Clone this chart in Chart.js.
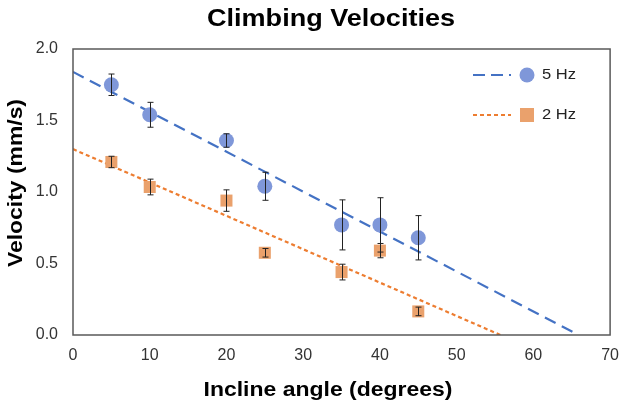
<!DOCTYPE html>
<html lang="en">
<head>
<meta charset="UTF-8">
<title>Climbing Velocities</title>
<script src="https://cdn.jsdelivr.net/npm/chart.js"></script>
<style>
  html, body { margin: 0; padding: 0; background: #fff; }
  #wrap { width: 622px; height: 404px; }
</style>
</head>
<body>
<div id="wrap"><canvas id="chart" width="622" height="404"></canvas></div>
<script>
// values
const angles = [5, 10, 20, 25, 35, 40, 45];
const vel5Hz = [1.75, 1.54, 1.36, 1.04, 0.77, 0.77, 0.68];
const err5Hz = [0.075, 0.087, 0.047, 0.098, 0.175, 0.19, 0.155];
const vel2Hz = [1.21, 1.035, 0.94, 0.575, 0.44, 0.59, 0.165];
const err2Hz = [0.04, 0.055, 0.075, 0.03, 0.055, 0.05, 0.03];

// trendline end points (x, y)
const fit5X = [0, 65.9];
const fit5Y = [1.84, 0];
const fit2X = [0, 55.7];
const fit2Y = [1.30, 0];

const xTicks = [0, 10, 20, 30, 40, 50, 60, 70];
const yTicks = [0, 0.5, 1.0, 1.5, 2.0];

const FONT = "'Liberation Sans', Arial, sans-serif";
const blueLine = '#4472c4', blueMark = '#7f97d9';
const orangeLine = '#ed7d31', orangeMark = '#eaa16c';

function pts(xs, ys) { return xs.map((x, i) => ({ x: x, y: ys[i] })); }

// the reference text is a bit wider than the font, so stretch it to width
function wideText(ctx, text, x, y, w) {
  const m = ctx.measureText(text).width;
  ctx.save();
  ctx.translate(x, y);
  ctx.scale(w / m, 1);
  ctx.fillText(text, 0, 0);
  ctx.restore();
}

// error bars, frame, titles and legend
const extras = {
  id: 'extras',
  afterDatasetsDraw(chart) {
    const ctx = chart.ctx, xs = chart.scales.x, ys = chart.scales.y;
    const a = chart.chartArea;
    ctx.save();
    ctx.strokeStyle = '#222';
    ctx.lineWidth = 1;
    [[vel5Hz, err5Hz], [vel2Hz, err2Hz]].forEach(([v, e]) => {
      angles.forEach((ang, i) => {
        const px = Math.round(xs.getPixelForValue(ang)) + 0.5;
        const top = ys.getPixelForValue(v[i] + e[i]);
        const bot = ys.getPixelForValue(v[i] - e[i]);
        ctx.beginPath();
        ctx.moveTo(px, top); ctx.lineTo(px, bot);
        ctx.moveTo(px - 3, top); ctx.lineTo(px + 3, top);
        ctx.moveTo(px - 3, bot); ctx.lineTo(px + 3, bot);
        ctx.stroke();
      });
    });
    // plot frame
    ctx.strokeStyle = '#595959';
    ctx.lineWidth = 1.5;
    ctx.strokeRect(a.left, a.top, a.right - a.left, a.bottom - a.top);

    // titles
    ctx.fillStyle = '#000';
    ctx.textAlign = 'center';
    ctx.textBaseline = 'alphabetic';
    ctx.font = 'bold 23px ' + FONT;
    wideText(ctx, 'Climbing Velocities', 331, 26, 248);
    ctx.font = 'bold 20px ' + FONT;
    wideText(ctx, 'Incline angle (degrees)', 328, 396, 249);
    ctx.save();
    ctx.translate(22, 183);
    ctx.rotate(-Math.PI / 2);
    wideText(ctx, 'Velocity (mm/s)', 0, 0, 168);
    ctx.restore();

    // legend
    ctx.lineWidth = 2;
    ctx.strokeStyle = blueLine;
    ctx.setLineDash([12, 6]);
    ctx.beginPath(); ctx.moveTo(473, 75); ctx.lineTo(511, 75); ctx.stroke();
    ctx.strokeStyle = orangeLine;
    ctx.setLineDash([4, 3]);
    ctx.beginPath(); ctx.moveTo(473, 115); ctx.lineTo(511, 115); ctx.stroke();
    ctx.setLineDash([]);
    ctx.fillStyle = blueMark;
    ctx.beginPath(); ctx.arc(527, 75, 7.5, 0, Math.PI * 2); ctx.fill();
    ctx.fillStyle = orangeMark;
    ctx.fillRect(520, 108, 14, 14);
    ctx.fillStyle = '#222';
    ctx.textAlign = 'left';
    ctx.textBaseline = 'middle';
    ctx.font = '15px ' + FONT;
    wideText(ctx, '5 Hz', 542, 75, 34);
    wideText(ctx, '2 Hz', 542, 115, 34);
    ctx.restore();
  }
};

new Chart(document.getElementById('chart'), {
  type: 'scatter',
  data: {
    datasets: [
      {
        label: '5 Hz fit', data: pts(fit5X, fit5Y), showLine: true,
        borderColor: blueLine, borderWidth: 2.2, borderDash: [12, 7],
        pointRadius: 0, order: 3
      },
      {
        label: '2 Hz fit', data: pts(fit2X, fit2Y), showLine: true,
        borderColor: orangeLine, borderWidth: 2.2, borderDash: [4, 3],
        pointRadius: 0, order: 4
      },
      {
        label: '5 Hz', data: pts(angles, vel5Hz),
        pointStyle: 'circle', pointRadius: 7.5, borderWidth: 0,
        backgroundColor: blueMark, borderColor: blueMark, order: 1
      },
      {
        label: '2 Hz', data: pts(angles, vel2Hz),
        pointStyle: 'rect', pointRadius: 8.5, borderWidth: 0,
        backgroundColor: orangeMark, borderColor: orangeMark, order: 2
      }
    ]
  },
  options: {
    responsive: false,
    animation: false,
    events: [],
    layout: { padding: { top: 49, right: 0, left: 0, bottom: 0 } },
    plugins: { legend: { display: false }, tooltip: { enabled: false } },
    scales: {
      x: {
        type: 'linear', min: 0, max: 70,
        afterBuildTicks: s => { s.ticks = xTicks.map(v => ({ value: v })); },
        afterFit: s => { s.height = 69; },
        grid: { display: false }, border: { display: false },
        ticks: { color: '#333', font: { family: FONT, size: 16 }, padding: 3 }
      },
      y: {
        min: 0, max: 2,
        afterBuildTicks: s => { s.ticks = yTicks.map(v => ({ value: v })); },
        afterFit: s => { s.width = 73; },
        grid: { display: false }, border: { display: false },
        ticks: { color: '#333', font: { family: FONT, size: 16 }, padding: 7,
                 callback: v => v.toFixed(1) }
      }
    }
  },
  plugins: [extras]
});
</script>
</body>
</html>
